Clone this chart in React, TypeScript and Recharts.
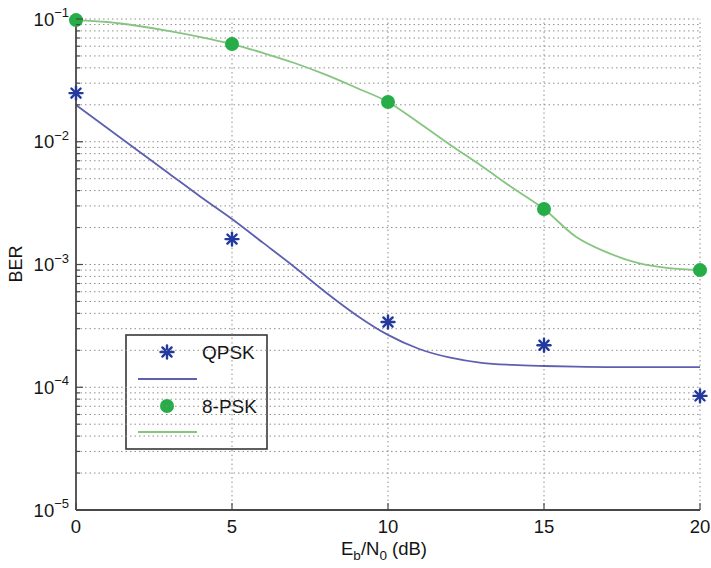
import React from "react";
import {
  ComposedChart,
  Line,
  Scatter,
  XAxis,
  YAxis,
  ReferenceLine,
} from "recharts";

// ---- data ----
const qpskMeasured = [
  { x: 0, y: 0.0249 },
  { x: 5, y: 0.00161 },
  { x: 10, y: 0.00034 },
  { x: 15, y: 0.00022 },
  { x: 20, y: 0.000085 },
];
const qpskFit = [
  { x: 0, y: 0.01993 },
  { x: 1, y: 0.01294 },
  { x: 2, y: 0.0084 },
  { x: 3, y: 0.00546 },
  { x: 4, y: 0.00355 },
  { x: 5, y: 0.00235 },
  { x: 6, y: 0.0015 },
  { x: 7, y: 0.000955 },
  { x: 8, y: 0.000595 },
  { x: 9, y: 0.000385 },
  { x: 10, y: 0.000267 },
  { x: 11, y: 0.000205 },
  { x: 12, y: 0.000174 },
  { x: 13, y: 0.000158 },
  { x: 14, y: 0.000152 },
  { x: 15, y: 0.000149 },
  { x: 16, y: 0.000147 },
  { x: 17, y: 0.000146 },
  { x: 18, y: 0.000146 },
  { x: 19, y: 0.000146 },
  { x: 20, y: 0.000146 },
];
const psk8Measured = [
  { x: 0, y: 0.098 },
  { x: 5, y: 0.0625 },
  { x: 10, y: 0.0211 },
  { x: 15, y: 0.00283 },
  { x: 20, y: 0.0009 },
];
const psk8Fit = [
  { x: 0, y: 0.098 },
  { x: 1, y: 0.0945 },
  { x: 2, y: 0.0877 },
  { x: 3, y: 0.0798 },
  { x: 4, y: 0.0713 },
  { x: 5, y: 0.0625 },
  { x: 6, y: 0.0528 },
  { x: 7, y: 0.0438 },
  { x: 8, y: 0.0352 },
  { x: 9, y: 0.0274 },
  { x: 10, y: 0.0211 },
  { x: 11, y: 0.0142 },
  { x: 12, y: 0.00942 },
  { x: 13, y: 0.00634 },
  { x: 14, y: 0.0042 },
  { x: 15, y: 0.00283 },
  { x: 16, y: 0.0017 },
  { x: 17, y: 0.00126 },
  { x: 18, y: 0.00103 },
  { x: 19, y: 0.000935 },
  { x: 20, y: 0.0009 },
];

const xTicks = [0, 5, 10, 15, 20];
const xGrid = [5, 10, 15, 20];
const decades = [1e-5, 1e-4, 1e-3, 1e-2, 1e-1];
const decadeExponents = ["−5", "−4", "−3", "−2", "−1"];
const minorMultipliers = [2, 3, 4, 5, 6, 7, 8, 9];
const seriesNames = ["QPSK", "8-PSK"];

// grid / tick values built from the decade list
const yGridValues: number[] = [];
decades.forEach((d, i) => {
  if (i > 0) yGridValues.push(d);
  if (i < decades.length - 1) minorMultipliers.forEach((m) => yGridValues.push(+(d * m).toPrecision(3)));
});
const yTickValues = [...yGridValues, 1e-5].sort((a, b) => a - b);

const FONT = "'Liberation Sans', Arial, Helvetica, sans-serif";
const AXIS = "#4a4646";
const GRID = "#8e8e8e";
const BLUE_MARK = "#24399c";
const BLUE_LINE = "#5d60b0";
const GREEN_MARK = "#27ad48";
const GREEN_LINE = "#86c580";
const TEXT = "#151515";

const Asterisk = (props: any) => {
  const { cx, cy } = props;
  if (cx == null || cy == null) return null;
  const r = 6.5;
  const d = r * Math.SQRT1_2;
  return (
    <g stroke={BLUE_MARK} strokeWidth={2.4} strokeLinecap="round">
      <line x1={cx - r} y1={cy} x2={cx + r} y2={cy} />
      <line x1={cx} y1={cy - r} x2={cx} y2={cy + r} />
      <line x1={cx - d} y1={cy - d} x2={cx + d} y2={cy + d} />
      <line x1={cx - d} y1={cy + d} x2={cx + d} y2={cy - d} />
    </g>
  );
};

const Dot = (props: any) => {
  const { cx, cy } = props;
  if (cx == null || cy == null) return null;
  return <circle cx={cx} cy={cy} r={7} fill={GREEN_MARK} />;
};

const YTick = (props: any) => {
  const { y, payload } = props;
  const v = payload.value;
  const idx = decades.findIndex((d) => Math.abs(d - v) / d < 1e-6);
  const isMajor = idx >= 0;
  const ax = 76;
  return (
    <g>
      <line x1={ax} y1={y} x2={ax + (isMajor ? 7 : 4)} y2={y} stroke={AXIS} strokeWidth={1.2} />
      {isMajor && (
        <text x={ax - 7} y={y + 6.5} textAnchor="end" fontFamily={FONT} fontSize={18.5} fill={TEXT}>
          <tspan>10</tspan>
          <tspan dy={-8.5} fontSize={13}>{decadeExponents[idx]}</tspan>
        </text>
      )}
    </g>
  );
};

const XTick = (props: any) => {
  const { x, payload } = props;
  const ay = 510;
  return (
    <g>
      <line x1={x} y1={ay} x2={x} y2={ay - 7} stroke={AXIS} strokeWidth={1.2} />
      <text x={x} y={ay + 23} textAnchor="middle" fontFamily={FONT} fontSize={18.5} fill={TEXT}>
        {payload.value}
      </text>
    </g>
  );
};

const LegendBox = ({ x, y }: { x: number; y: number }) => (
  <g transform={`translate(${x},${y})`}>
    <rect x={1} y={1} width={141} height={114} fill="#fff" stroke="#3a3636" strokeWidth={1.6} />
    <Asterisk cx={42} cy={18} />
    <text x={77} y={25} fontFamily={FONT} fontSize={19} fill={TEXT}>{seriesNames[0]}</text>
    <line x1={13} y1={45} x2={72} y2={45} stroke={BLUE_LINE} strokeWidth={1.8} />
    <Dot cx={42} cy={72} />
    <text x={77} y={79} fontFamily={FONT} fontSize={19} fill={TEXT}>{seriesNames[1]}</text>
    <line x1={13} y1={98} x2={72} y2={98} stroke={GREEN_LINE} strokeWidth={1.8} />
  </g>
);

export default function App() {
  return (
    <div style={{ position: "absolute", left: 0, top: 0, width: 711, height: 568, background: "#fff" }}>
      <ComposedChart
        width={711}
        height={568}
        margin={{ top: 19, right: 11, left: 0, bottom: 0 }}
      >
        <XAxis
          dataKey="x"
          type="number"
          domain={[0, 20]}
          ticks={xTicks}
          interval={0}
          tickSize={0}
          tickMargin={0}
          height={58}
          axisLine={{ stroke: AXIS, strokeWidth: 1.8 }}
          tick={<XTick />}
        />
        <YAxis
          dataKey="y"
          type="number"
          scale="log"
          domain={[1e-5, 1e-1]}
          ticks={yTickValues}
          interval={0}
          tickSize={0}
          tickMargin={0}
          width={76}
          axisLine={{ stroke: AXIS, strokeWidth: 1.8 }}
          tick={<YTick />}
        />
        {yGridValues.map((v) => (
          <ReferenceLine key={"h" + v} y={v} stroke={GRID} strokeDasharray="1.5 3" strokeWidth={1} />
        ))}
        {xGrid.map((v) => (
          <ReferenceLine key={"v" + v} x={v} stroke={GRID} strokeDasharray="1.5 3" strokeWidth={1} />
        ))}
        <Line
          data={qpskFit}
          dataKey="y"
          type="monotone"
          stroke={BLUE_LINE}
          strokeWidth={1.8}
          dot={false}
          activeDot={false}
          isAnimationActive={false}
          name="QPSK fit"
        />
        <Line
          data={psk8Fit}
          dataKey="y"
          type="monotone"
          stroke={GREEN_LINE}
          strokeWidth={1.8}
          dot={false}
          activeDot={false}
          isAnimationActive={false}
          name="8-PSK fit"
        />
        <Scatter data={qpskMeasured} dataKey="y" shape={<Asterisk />} isAnimationActive={false} name="QPSK" />
        <Scatter data={psk8Measured} dataKey="y" shape={<Dot />} isAnimationActive={false} name="8-PSK" />
        <LegendBox x={125} y={334} />
        <text
          x={16}
          y={264}
          transform="rotate(-90 16 264)"
          textAnchor="middle"
          dominantBaseline="central"
          fontFamily={FONT}
          fontSize={18}
          fill={TEXT}
        >
          BER
        </text>
        <text x={384} y={555} textAnchor="middle" fontFamily={FONT} fontSize={18.5} fill={TEXT}>
          <tspan>E</tspan>
          <tspan dy={5} fontSize={13.5}>b</tspan>
          <tspan dy={-5}>/N</tspan>
          <tspan dy={5} fontSize={13.5}>0</tspan>
          <tspan dy={-5}> (dB)</tspan>
        </text>
      </ComposedChart>
    </div>
  );
}
